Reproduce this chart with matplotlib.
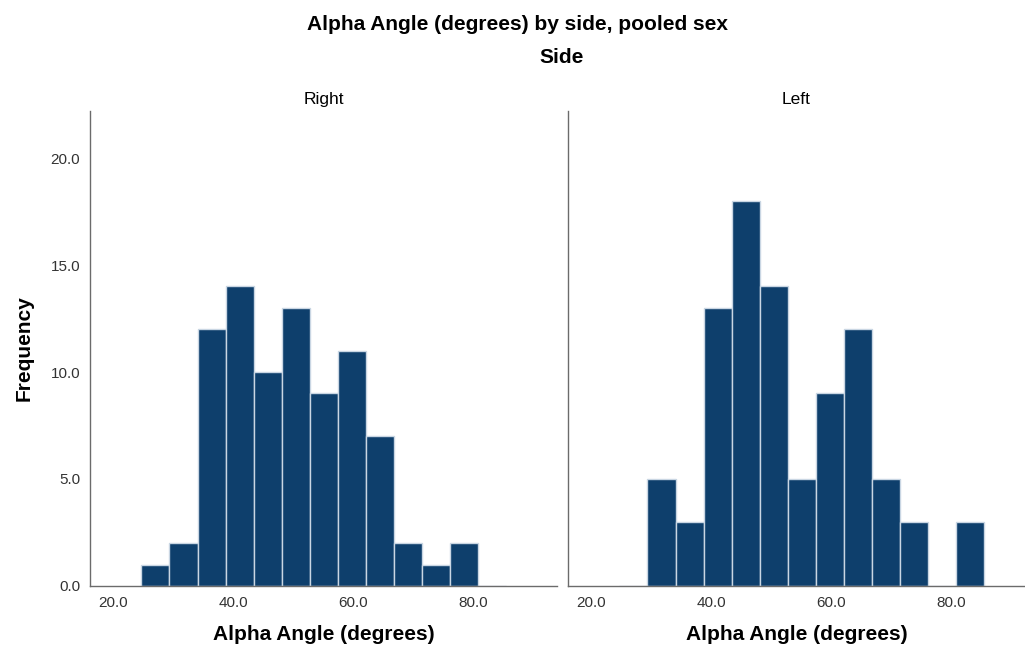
import numpy as np
import matplotlib
matplotlib.use("Agg")
import matplotlib.pyplot as plt

plt.rcParams['font.family'] = ['Liberation Sans', 'DejaVu Sans']

# bin edges (degrees)
bin_edges = [24.75, 29.42, 34.09, 38.76, 43.43, 48.10, 52.77,
             57.44, 62.11, 66.78, 71.45, 76.12, 80.79, 85.46]
right_counts = [1, 2, 12, 14, 10, 13, 9, 11, 7, 2, 1, 2, 0]
left_counts = [0, 5, 3, 13, 18, 14, 5, 9, 12, 5, 3, 0, 3]
panels = ['Right', 'Left']
x_ticks = [20, 40, 60, 80]
y_ticks = [0, 5, 10, 15, 20]

BAR = '#0e3f6c'
EDGE = '#c9d6e3'
SPINE = '#6b6b6b'

fig = plt.figure(figsize=(10.25, 6.5), dpi=100)
ax_r = fig.add_axes([0.0878, 0.0985, 0.4556, 0.7308])
ax_l = fig.add_axes([0.5541, 0.0985, 0.4459, 0.7308])

for ax, counts, name in [(ax_r, right_counts, panels[0]), (ax_l, left_counts, panels[1])]:
    ax.hist(bin_edges[:-1], bins=bin_edges, weights=counts,
            color=BAR, edgecolor=EDGE, linewidth=1.0)
    ax.set_ylim(0, 22.2)
    ax.set_xticks(x_ticks)
    ax.set_xticklabels(['%.1f' % v for v in x_ticks], fontsize=11, color='#333333')
    ax.set_yticks(y_ticks)
    for s in ['top', 'right']:
        ax.spines[s].set_visible(False)
    for s in ['left', 'bottom']:
        ax.spines[s].set_color(SPINE)
        ax.spines[s].set_linewidth(1.0)
    ax.tick_params(length=0, pad=7)
    ax.set_xlabel('Alpha Angle (degrees)', fontsize=15, fontweight='bold', labelpad=11)
    ax.set_title(name, fontsize=12.5, pad=5)

ax_r.set_xlim(16.17, 94.0)
ax_l.set_xlim(16.17, 92.3)
ax_r.set_yticklabels(['%.1f' % v for v in y_ticks], fontsize=11, color='#333333')
ax_l.set_yticklabels([])
ax_r.set_ylabel('Frequency', fontsize=15, fontweight='bold', labelpad=12)

fig.text(0.505, 0.962, 'Alpha Angle (degrees) by side, pooled sex',
         ha='center', va='center', fontsize=15, fontweight='bold')
fig.text(0.548, 0.911, 'Side', ha='center', va='center', fontsize=15, fontweight='bold')

fig.savefig('out.png', dpi=100)
